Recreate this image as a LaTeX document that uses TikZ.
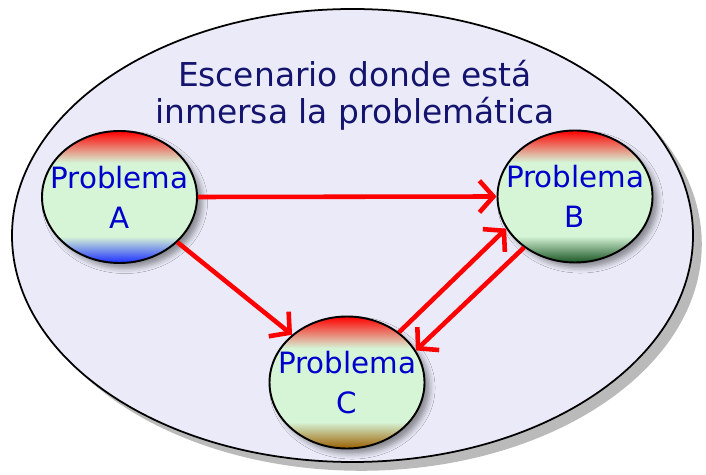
\documentclass[tikz,border=0pt]{standalone}
\usepackage{fontspec}
\setmainfont{DejaVu Sans}
\usepackage{xcolor}
\usetikzlibrary{shapes.geometric, arrows.meta, shadows, shadows.blur}
\definecolor{Scene}{RGB}{234, 234, 248}
\definecolor{Leaf}{RGB}{214, 244, 214}
\definecolor{TitleInk}{RGB}{20, 20, 110}
\definecolor{LabelInk}{RGB}{0, 0, 205}
\definecolor{BottomA}{RGB}{25, 45, 255}
\definecolor{BottomB}{RGB}{25, 85, 35}
\definecolor{BottomC}{RGB}{155, 95, 0}
\pgfdeclareverticalshading{shadeA}{100bp}{color(0bp)=(BottomA); color(25bp)=(BottomA); color(35bp)=(Leaf); color(63bp)=(Leaf); color(75bp)=(red); color(100bp)=(red)}
\pgfdeclareverticalshading{shadeB}{100bp}{color(0bp)=(BottomB); color(25bp)=(BottomB); color(35bp)=(Leaf); color(63bp)=(Leaf); color(75bp)=(red); color(100bp)=(red)}
\pgfdeclareverticalshading{shadeC}{100bp}{color(0bp)=(BottomC); color(25bp)=(BottomC); color(35bp)=(Leaf); color(63bp)=(Leaf); color(75bp)=(red); color(100bp)=(red)}

\begin{document}
\begin{tikzpicture}[
            scene/.style={ellipse, draw=black, line width=1pt, fill=Scene, inner sep=0pt, minimum width=13.62cm, minimum height=9.06cm, drop shadow={shadow xshift=5pt, shadow yshift=-5pt, fill=black!27, opacity=1}},
            problema/.style={ellipse, draw=black, line width=1.1pt, inner xsep=-0.3cm, inner ysep=0pt, minimum width=3.1cm, minimum height=2.64cm, align=center, text=LabelInk, font=\fontsize{16.7}{22.7}\selectfont, blur shadow={shadow xshift=3pt, shadow yshift=-3pt, shadow blur radius=3pt}},
            flecha/.style={draw=red, line width=2.6pt, -{Straight Barb[length=8pt, width=18pt]}}
        ]
            \useasboundingbox (0,0) rectangle (14.12,9.5);
            \node[scene] (escenario) at (7.05,4.79) {};
            \node[text=TitleInk, align=center, font=\fontsize{18.7}{21}\selectfont] (titulo) at (7.1,7.6) {Escenario donde está\\inmersa la problemática};
            \node[problema, shading=shadeA] (probA) at (2.39,5.56) {Problema\\A};
            \node[problema, shading=shadeB] (probB) at (11.5,5.57) {Problema\\B};
            \node[problema, shading=shadeC] (probC) at (6.94,1.85) {Problema\\C};
            \draw[flecha] (probA.0) -- (probB.180);
            \draw[flecha] (probA.322) -- (probC.139);
            \draw[flecha] (probC.44) -- (probB.205);
            \draw[flecha] (probB.225) -- (probC.25);
        \end{tikzpicture}
\end{document}
